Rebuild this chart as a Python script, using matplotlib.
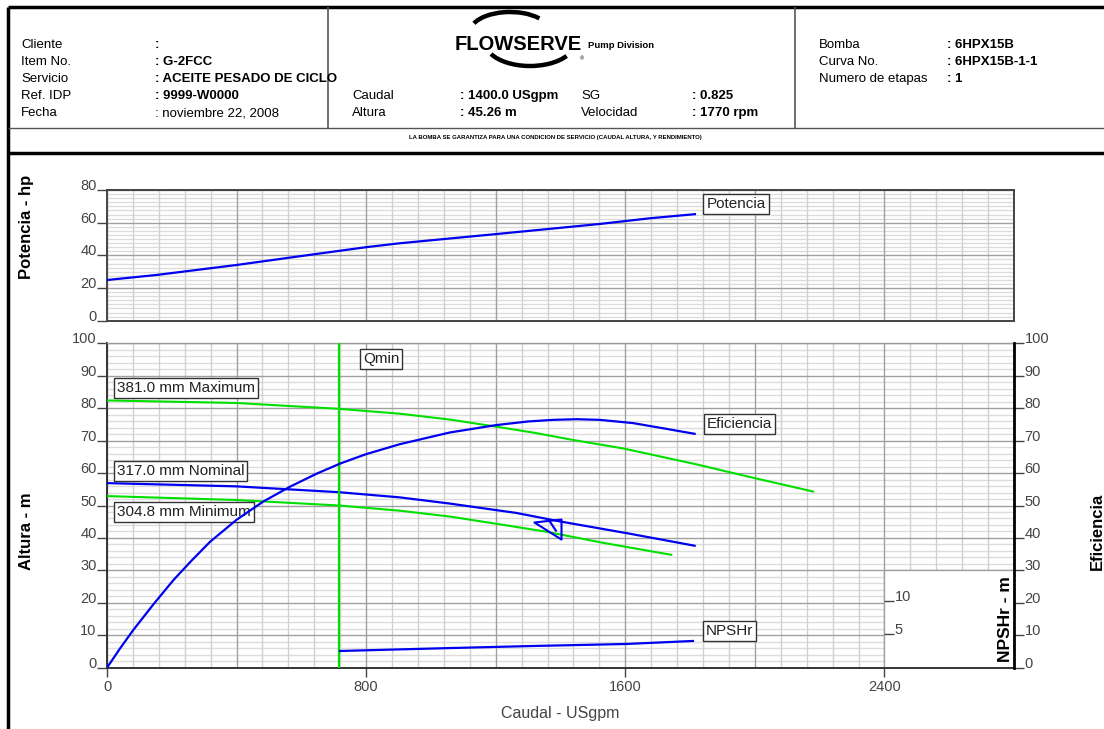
import numpy as np
import matplotlib.pyplot as plt
from matplotlib.lines import Line2D
from matplotlib.patches import Rectangle, Arc
from matplotlib.path import Path

plt.rcParams['font.family'] = ['Liberation Sans', 'DejaVu Sans']

# ---- data ----
flow_eff = [0, 40, 81, 143, 205, 260, 318, 400, 482, 565, 647, 719, 799, 904, 1058, 1202, 1300, 1377,
            1450, 1521, 1624, 1717, 1814]
eff = [0, 5.9, 11.6, 19.5, 27.0, 32.9, 38.8, 45.6, 51.2, 55.8, 59.8, 62.9, 65.8, 68.9, 72.5, 74.8, 75.9, 76.4,
       76.6, 76.4, 75.4, 73.8, 72.1]

flow_max = [0, 400, 716, 904, 1058, 1202, 1320, 1439, 1593, 1819, 1984, 2180]
head_max = [82.4, 81.6, 79.8, 78.3, 76.5, 74.3, 72.4, 70.2, 67.6, 62.7, 58.8, 54.3]

flow_nom = [0, 400, 716, 904, 1058, 1264, 1398, 1614, 1814]
head_nom = [56.9, 55.9, 54.1, 52.5, 50.6, 47.7, 45.1, 41.3, 37.6]

flow_min = [0, 400, 716, 904, 1058, 1200, 1357, 1531, 1742]
head_min = [52.9, 51.7, 50.0, 48.4, 46.6, 44.4, 41.9, 38.5, 34.8]

flow_pow = [0, 153, 400, 637, 800, 904, 1200, 1521, 1676, 1815]
power = [24.9, 28, 34.1, 40.6, 45, 47.4, 53, 59.2, 62.7, 65.2]

flow_npsh = [719, 1027, 1315, 1603, 1809]
npsh = [2.5, 2.9, 3.25, 3.55, 4.0]

q_min = 716
duty_q, duty_h = 1400, 45.26

header_left = [("Cliente", ":"), ("Item No.", ": G-2FCC"), ("Servicio", ": ACEITE PESADO DE CICLO"),
               ("Ref. IDP", ": 9999-W0000"), ("Fecha", ": noviembre 22, 2008")]
header_mid = [("Caudal", ": 1400.0 USgpm", "SG", ": 0.825"),
              ("Altura", ": 45.26 m", "Velocidad", ": 1770 rpm")]
header_right = [("Bomba", ": 6HPX15B"), ("Curva No.", ": 6HPX15B-1-1"), ("Numero de etapas", ": 1")]

W, H = 1104, 729
BLUE = '#0000f0'
GREEN = '#00e000'
MINOR = '#d0d0d0'
MAJOR = '#a0a0a0'
TXT = '#444444'

fig = plt.figure(figsize=(W / 100, H / 100), dpi=100)


def fx(px):
    return px / W


def fy(py):
    return 1 - py / H


def fline(x0, y0, x1, y1, lw, color='black'):
    fig.add_artist(Line2D([fx(x0), fx(x1)], [fy(y0), fy(y1)], lw=lw, color=color,
                          transform=fig.transFigure, solid_capstyle='butt'))


# ---- header frame ----
fline(8, 7, W, 7, 2.5)
fline(8, 7, 8, H, 2.5)
fline(8, 128, W, 128, 1, '#555555')
fline(8, 153, W, 153, 2.5)
fline(328, 7, 328, 128, 1.2, '#555555')
fline(795, 7, 795, 128, 1.2, '#555555')

for i, (k, v) in enumerate(header_left):
    yb = 48 + 17 * i
    fig.text(fx(21), fy(yb), k, fontsize=9.5, va='baseline')
    fig.text(fx(155), fy(yb), v, fontsize=9.5, va='baseline',
             fontweight='normal' if k == 'Fecha' else 'bold')
for i, (k1, v1, k2, v2) in enumerate(header_mid):
    yb = 99 + 17 * i
    fig.text(fx(352), fy(yb), k1, fontsize=9.5, va='baseline')
    fig.text(fx(460), fy(yb), v1, fontsize=9.5, va='baseline', fontweight='bold')
    fig.text(fx(581), fy(yb), k2, fontsize=9.5, va='baseline')
    fig.text(fx(692), fy(yb), v2, fontsize=9.5, va='baseline', fontweight='bold')
for i, (k, v) in enumerate(header_right):
    yb = 48 + 17 * i
    fig.text(fx(819), fy(yb), k, fontsize=9.5, va='baseline')
    fig.text(fx(947), fy(yb), v, fontsize=9.5, va='baseline', fontweight='bold')

# logo
fig.text(fx(455), fy(50), "FLOWSERVE", fontsize=14.5, fontweight='heavy', va='baseline')
fig.text(fx(588), fy(48), "Pump Division", fontsize=6.8, fontweight='bold', va='baseline')
fig.text(fx(580), fy(60), "\u00ae", fontsize=4, va='baseline')
fig.add_artist(Arc((fx(510), fy(32)), fx(80), 40 / H, theta1=35, theta2=160,
                   lw=3.2, color='black', transform=fig.transFigure))
fig.add_artist(Arc((fx(530), fy(42)), fx(90), 48 / H, theta1=205, theta2=330,
                   lw=3.2, color='black', transform=fig.transFigure))
fig.text(fx(555), fy(137), "LA BOMBA SE GARANTIZA PARA UNA CONDICION DE SERVICIO (CAUDAL ALTURA, Y RENDIMIENTO)",
         fontsize=4.3, fontweight='bold', ha='center', va='center')

# ---- axes ----
x0, x1 = 107, 1014
ax_p = fig.add_axes([fx(x0), fy(320.7), fx(x1 - x0), (320.7 - 190) / H])
ax_h = fig.add_axes([fx(x0), fy(667.7), fx(x1 - x0), (667.7 - 343.3) / H])

xmax = 2800
xs = np.arange(0, xmax + 1, 80)


def draw_grid(ax, ymax, ystep, ymajor):
    for x in xs:
        c = MAJOR if x % 400 == 0 else MINOR
        ax.plot([x, x], [0, ymax], color=c, lw=1, zorder=0.5)
    for y in np.arange(0, ymax + 0.01, ystep):
        c = MAJOR if abs(y / ymajor - round(y / ymajor)) < 1e-6 else '#dcdcdc'
        ax.plot([0, xmax], [y, y], color=c, lw=1, zorder=0.4 if c != MAJOR else 0.6)


def left_ticks(ax, ticks):
    ax.set_yticks(ticks)
    ax.tick_params(axis='y', direction='out', length=7.5, width=1, color=TXT,
                   labelcolor=TXT, labelsize=10.5, pad=0)
    for lbl in ax.get_yticklabels():
        lbl.set_va('baseline')


# top: power
draw_grid(ax_p, 80, 2.5, 20)
ax_p.plot(flow_pow, power, color=BLUE, lw=1.6, zorder=3)
ax_p.set_xlim(0, xmax)
ax_p.set_ylim(0, 80)
ax_p.set_xticks([])
left_ticks(ax_p, [0, 20, 40, 60, 80])
for s in ax_p.spines.values():
    s.set_color('#444444')
    s.set_linewidth(1.4)
ax_p.text(1850, 71.5, "Potencia", fontsize=11, color='#222222', va='center',
          bbox=dict(boxstyle='square,pad=0.2', fc='white', ec='#333333', lw=1), zorder=5)

# bottom: head
draw_grid(ax_h, 100, 2, 10)
ax_h.add_patch(Rectangle((2400, 0), 400, 30, fc='white', ec=MAJOR, lw=1, zorder=1))
ax_h.plot(flow_max, head_max, color=GREEN, lw=1.5, zorder=3)
ax_h.plot(flow_min, head_min, color=GREEN, lw=1.5, zorder=3)
ax_h.plot(flow_nom, head_nom, color=BLUE, lw=1.6, zorder=3)
ax_h.axvline(q_min, color=GREEN, lw=1.6, zorder=3)

tri = Path([(-27, -1), (0, 2), (0, -18), (-27, -1), (-12, 0.5), (-5, -10)],
           [Path.MOVETO, Path.LINETO, Path.LINETO, Path.CLOSEPOLY, Path.MOVETO, Path.LINETO])
ax_h.plot([duty_q], [duty_h], marker=tri, markersize=39, mfc='none', mec=BLUE, mew=1.5, zorder=4)

ax_h.set_xlim(0, xmax)
ax_h.set_ylim(0, 100)
ax_h.set_xticks([0, 800, 1600, 2400])
ax_h.tick_params(axis='x', direction='out', length=6.5, width=1, color=TXT,
                 labelcolor=TXT, labelsize=10.5, pad=2)
left_ticks(ax_h, range(0, 101, 10))
ax_h.set_xlabel("Caudal - USgpm", fontsize=11.5, color=TXT, labelpad=9)
ax_h.spines['top'].set_color('#999999')
ax_h.spines['top'].set_linewidth(1)
ax_h.spines['right'].set_visible(False)
for s in ('left', 'bottom'):
    ax_h.spines[s].set_color('#333333')
    ax_h.spines[s].set_linewidth(1.4)

box = dict(boxstyle='square,pad=0.2', fc='white', ec='#333333', lw=1)
ax_h.text(790, 95.2, "Qmin", fontsize=11, color='#222222', va='center', bbox=box, zorder=5)
ax_h.text(30, 86.2, "381.0 mm Maximum", fontsize=11, color='#222222', va='center', bbox=box, zorder=5)
ax_h.text(30, 60.7, "317.0 mm Nominal", fontsize=11, color='#222222', va='center', bbox=box, zorder=5)
ax_h.text(30, 48.1, "304.8 mm Minimum", fontsize=11, color='#222222', va='center', bbox=box, zorder=5)

# efficiency on right axis
ax_e = ax_h.twinx()
ax_e.plot(flow_eff, eff, color=BLUE, lw=1.6, zorder=3)
ax_e.set_ylim(0, 100)
ax_e.set_yticks(range(0, 101, 10))
ax_e.tick_params(axis='y', direction='out', length=7.5, width=1, color=TXT,
                 labelcolor=TXT, labelsize=10.5, pad=0)
for lbl in ax_e.get_yticklabels():
    lbl.set_va('baseline')
for s in ('left', 'top', 'bottom'):
    ax_e.spines[s].set_visible(False)
ax_e.spines['right'].set_color('black')
ax_e.spines['right'].set_linewidth(2)
ax_e.text(1851, 75.1, "Eficiencia", fontsize=11, color='#222222', va='center', bbox=box, zorder=5)

# NPSHr on its own scale
ax_n = ax_h.twinx()
ax_n.plot(flow_npsh, npsh, color=BLUE, lw=1.6, zorder=3)
ax_n.set_ylim(0, 100 / 2.06)
ax_n.spines['right'].set_position(('data', 2400))
for s in ax_n.spines.values():
    s.set_visible(False)
ax_n.set_yticks([5, 10])
ax_n.tick_params(axis='y', direction='out', length=7.5, width=1, color=TXT,
                 labelcolor=TXT, labelsize=10.5, pad=0)
for lbl in ax_n.get_yticklabels():
    lbl.set_va('baseline')
ax_n.text(1848, 11.3 / 2.06, "NPSHr", fontsize=11, color='#222222', va='center', bbox=box, zorder=5)

# axis titles
fig.text(fx(27), fy(227), "Potencia - hp", fontsize=12, fontweight='bold', rotation=90, ha='center', va='center')
fig.text(fx(27), fy(531), "Altura - m", fontsize=12, fontweight='bold', rotation=90, ha='center', va='center')
fig.text(fx(1097), fy(531), "Eficiencia", fontsize=12, fontweight='bold', rotation=90, ha='center', va='center')
fig.text(fx(1005), fy(619), "NPSHr - m", fontsize=12.5, fontweight='bold', rotation=90, ha='center', va='center')

fig.savefig("out.png", dpi=100)
